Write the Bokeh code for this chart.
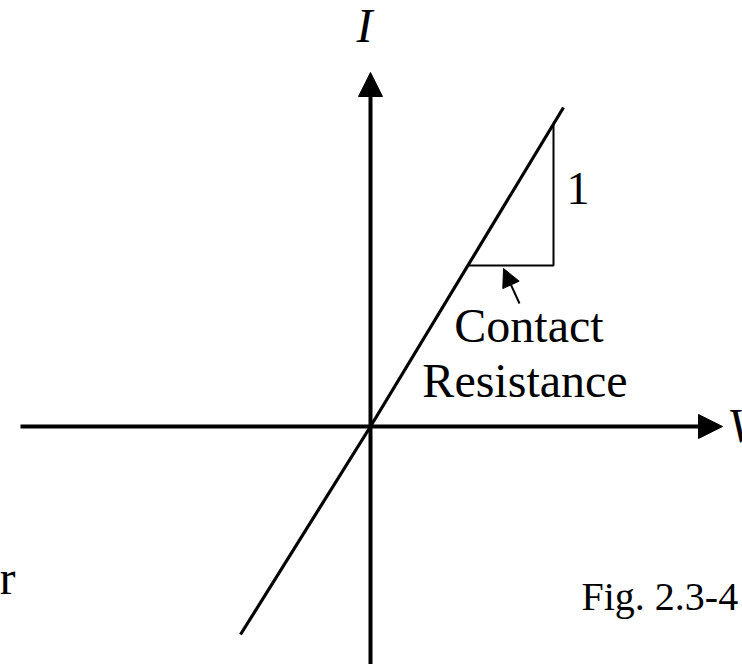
from bokeh.plotting import figure
from bokeh.models import Range1d, Arrow, NormalHead
from bokeh.core.properties import value
from bokeh.embed import file_html
from bokeh.resources import INLINE

# I–V sketch in its own units: V to the right, I upward, origin at the axes crossing
axis_v = [-350, 352]          # horizontal (V) axis: start, arrow tip
axis_i = [-238, 354]          # vertical (I) axis: bottom, arrow tip

# ohmic characteristic through the origin
curve_v = [-130, 0, 193]
curve_i = [-208, 0, 319]

# slope triangle on the curve
tri_v = [97, 183, 183]
tri_i = [161, 161, 302]

# pointer from the caption to the triangle
pointer_v = [149, 133]
pointer_i = [123, 158]

label_text = ["Contact", "Resistance"]
label_v = [158.5, 154.5]
label_i = [101, 46]

p = figure(width=742, height=664, output_backend="svg", toolbar_location=None,
           x_range=Range1d(-370, 372), y_range=Range1d(-238, 426),
           min_border=0, background_fill_color="white", border_fill_color="white")
p.axis.visible = False
p.grid.visible = False
p.outline_line_color = None

serif = value("Liberation Serif")

# axes with arrow heads
p.add_layout(Arrow(end=NormalHead(size=24, fill_color="black", line_color="black", line_width=1),
                   x_start=axis_v[0], y_start=0, x_end=axis_v[1], y_end=0,
                   line_width=4, line_color="black"))
p.add_layout(Arrow(end=NormalHead(size=24, fill_color="black", line_color="black", line_width=1),
                   x_start=0, y_start=axis_i[0], x_end=0, y_end=axis_i[1],
                   line_width=4, line_color="black"))

# characteristic line
p.line(curve_v, curve_i, line_width=3.2, line_color="black")

# slope triangle (horizontal + vertical legs)
p.line(tri_v, tri_i, line_width=2, line_color="black")

# pointer arrow
p.add_layout(Arrow(end=NormalHead(size=18, fill_color="black", line_color="black", line_width=1),
                   x_start=pointer_v[0], y_start=pointer_i[0], x_end=pointer_v[1], y_end=pointer_i[1],
                   line_width=2, line_color="black"))

# axis names
p.text(x=[-6], y=[401], text=["I"], text_font=serif, text_font_style="italic",
       text_font_size="48px", text_align="center", text_baseline="alphabetic", text_color="black")
p.text(x=[357], y=[1], text=["V"], text_font=serif, text_font_style="italic",
       text_font_size="48px", text_align="left", text_baseline="alphabetic", text_color="black")

# triangle rise and caption
p.text(x=[207.5], y=[238], text=["1"], text_font=serif, text_font_size="46px",
       text_align="center", text_baseline="alphabetic", text_color="black")
p.text(x=label_v, y=label_i, text=label_text, text_font=serif, text_font_size="48px",
       text_align="center", text_baseline="alphabetic", text_color="black")

# stray letter at the left edge and figure number
p.text(x=[-371], y=[-151], text=["r"], text_font=serif, text_font_size="48px",
       text_align="left", text_baseline="alphabetic", text_color="black")
p.text(x=[211], y=[-170], text=["Fig. 2.3-4"], text_font=serif, text_font_size="40px",
       text_align="left", text_baseline="alphabetic", text_color="black")

open("out.html", "w").write(file_html(p, INLINE))
